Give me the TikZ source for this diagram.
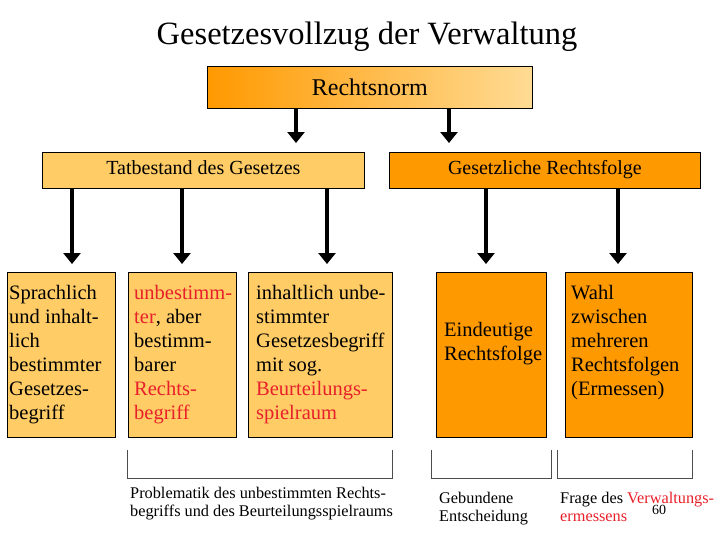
\documentclass[tikz,border=0pt]{standalone}
\usepackage{fontspec}
\setmainfont{Liberation Serif}
\usetikzlibrary{arrows.meta}
\definecolor{lorange}{HTML}{FFCC66}
\definecolor{dorange}{HTML}{FF9900}
\definecolor{tred}{HTML}{E8202A}
\begin{document}
\begin{tikzpicture}[x=1pt,y=-1pt,
  box/.style={draw=black,line width=0.8pt,inner sep=0pt},
  arr/.style={line width=4pt,-{Triangle[length=11pt,width=17pt]}},
  brk/.style={draw=black!70,line width=0.8pt},
  btxt/.style={font=\fontsize{20.5}{24}\selectfont,align=left,anchor=north west,inner sep=0pt},
  small/.style={font=\fontsize{16.3}{18}\selectfont,align=left,anchor=north west,inner sep=0pt}]
\useasboundingbox (0,0) rectangle (728,546);
\node (title) at (367,37) {\fontsize{32.5}{34}\selectfont Gesetzesvollzug der Verwaltung};
\shade[left color=dorange,right color=lorange!70] (207,66) rectangle (532,108);
\node[box,minimum width=325pt,minimum height=42pt,anchor=north west] (rn) at (207,66) {};
\node at (rn.center) {\fontsize{24}{26}\selectfont Rechtsnorm};
\node[box,fill=lorange,minimum width=322pt,minimum height=36pt,anchor=north west] (tb) at (42,152) {};
\node at (tb.center) {\fontsize{20}{22}\selectfont\strut Tatbestand des Gesetzes};
\node[box,fill=dorange,minimum width=311pt,minimum height=36pt,anchor=north west] (rf) at (389,152) {};
\node at (rf.center) {\fontsize{20}{22}\selectfont\strut Gesetzliche Rechtsfolge};
\coordinate (a1) at (296,108); \coordinate (a1e) at (296,143);
\coordinate (a2) at (449,108); \coordinate (a2e) at (449,143);
\draw[arr] (a1) -- (a1e);
\draw[arr] (a2) -- (a2e);
\node[box,fill=lorange,minimum width=108pt,minimum height=165pt,anchor=north west] (b1) at (7,272) {};
\node[box,fill=lorange,minimum width=108pt,minimum height=165pt,anchor=north west] (b2) at (128,272) {};
\node[box,fill=lorange,minimum width=144pt,minimum height=165pt,anchor=north west] (b3) at (248,272) {};
\node[box,fill=dorange,minimum width=110pt,minimum height=165pt,anchor=north west] (b4) at (436,272) {};
\node[box,fill=dorange,minimum width=127pt,minimum height=165pt,anchor=north west] (b5) at (565,272) {};
\foreach \x in {72,182,327,486,618}{\draw[arr] (\x,188) -- (\x,264);}
\node[btxt] (t1) at (9,285) {Sprachlich\\und inhalt-\\lich\\bestimmter\\Gesetzes-\\begriff};
\node[btxt] (t2) at (134,285) {\textcolor{tred}{unbestimm-}\\\textcolor{tred}{ter}, aber\\bestimm-\\barer\\\textcolor{tred}{Rechts-}\\\textcolor{tred}{begriff}};
\node[btxt] (t3) at (256,285) {inhaltlich unbe-\\stimmter\\Gesetzesbegriff\\mit sog.\\\textcolor{tred}{Beurteilungs-}\\\textcolor{tred}{spielraum}};
\node[btxt,anchor=west] (t4) at (444,344) {Eindeutige\\Rechtsfolge};
\node[btxt] (t5) at (571,285) {Wahl\\zwischen\\mehreren\\Rechtsfolgen\\(Ermessen)};
\draw[brk] (127,450) |- (392,478) -- (392,450);
\draw[brk] (431,450) |- (551,478) -- (551,450);
\draw[brk] (557,450) |- (692,478) -- (692,450);
\node[small] (s1) at (130,487) {Problematik des unbestimmten Rechts-\\begriffs und des Beurteilungsspielraums};
\node[small] (s2) at (439,492) {Gebundene\\Entscheidung};
\node[small] (s3) at (560,492) {Frage des \textcolor{tred}{Verwaltungs-}\\\textcolor{tred}{ermessens}};
\node[font=\fontsize{14}{16}\selectfont] (pg) at (659,510) {60};
\end{tikzpicture}
\end{document}
